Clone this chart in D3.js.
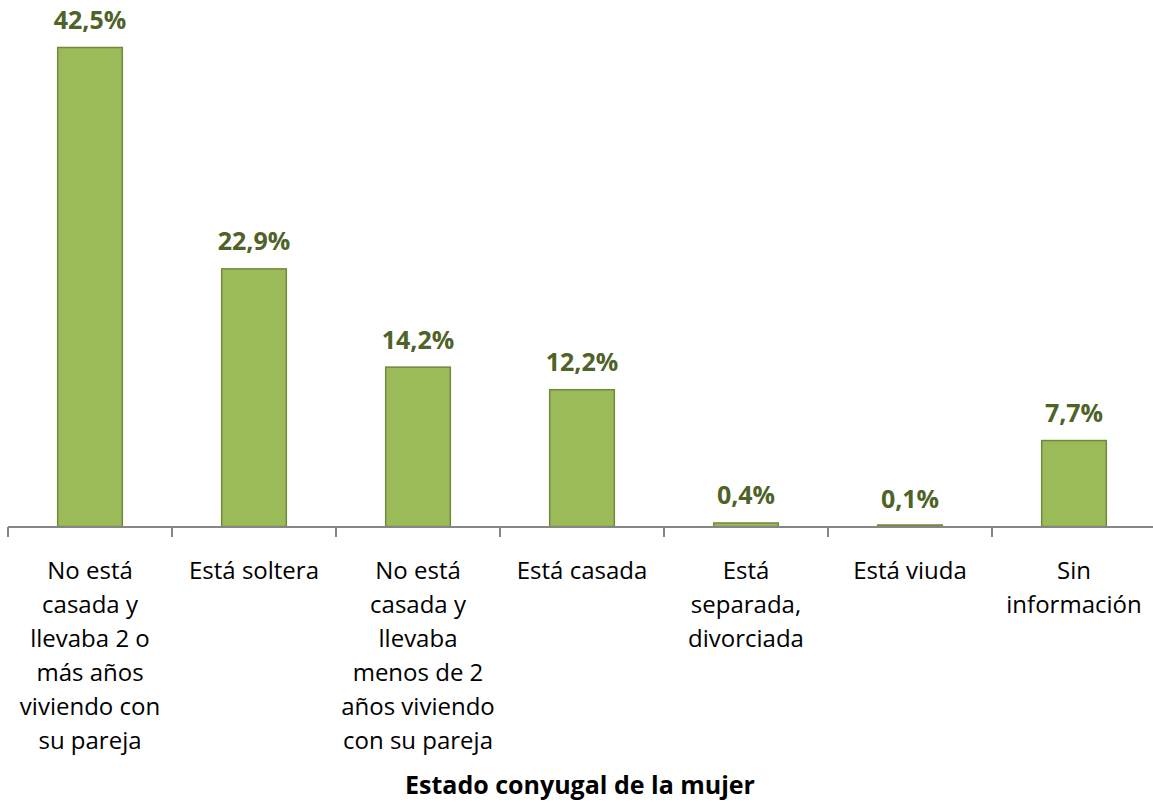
<!DOCTYPE html>
<html>
<head>
<meta charset="utf-8">
<script src="https://cdnjs.cloudflare.com/ajax/libs/d3/7.8.5/d3.min.js"></script>
<style>
  body { margin: 0; background: #fff; }
  text { font-family: "Open Sans", "Noto Sans", sans-serif; }
</style>
</head>
<body>
<div id="vis"></div>
<script>
  var w = 1153, h = 806;

  // data
  var categories = [
    ["No está", "casada y", "llevaba 2 o", "más años", "viviendo con", "su pareja"],
    ["Está soltera"],
    ["No está", "casada y", "llevaba", "menos de 2", "años viviendo", "con su pareja"],
    ["Está casada"],
    ["Está", "separada,", "divorciada"],
    ["Está viuda"],
    ["Sin", "información"]
  ];
  var values = [42.5, 22.9, 14.2, 12.2, 0.4, 0.1, 7.7];
  var valueLabels = ["42,5%", "22,9%", "14,2%", "12,2%", "0,4%", "0,1%", "7,7%"];
  var axisTitle = "Estado conyugal de la mujer";

  var left = 8, right = 1156, base = 527;

  const svg = d3.select("#vis").append("svg")
      .attr("width", w).attr("height", h)
      .attr("viewBox", [0, 0, w, h]);

  var x = d3.scaleBand().domain(d3.range(values.length)).range([left, right]).paddingInner(0.6).paddingOuter(0.3);
  var step = (right - left) / values.length;
  var y = d3.scaleLinear().domain([0, 42.5]).range([base, 47]);

  svg.append("g").selectAll("rect")
      .data(values)
      .join("rect")
      .attr("x", (d, i) => x(i) + 0.5)
      .attr("y", d => Math.min(y(d) + 0.5, base - 2))
      .attr("width", x.bandwidth() - 1)
      .attr("height", d => Math.max(base - y(d) - 1, 1.5))
      .attr("fill", "#9BBB59")
      .attr("stroke", "#71893F")
      .attr("stroke-width", 1.5);

  // axis line and ticks
  var ax = svg.append("g").attr("stroke", "#868686").attr("stroke-width", 2);
  ax.append("line").attr("x1", left).attr("x2", w).attr("y1", base).attr("y2", base);
  ax.selectAll("line.tick")
      .data(d3.range(values.length + 1))
      .join("line")
      .attr("class", "tick")
      .attr("x1", i => left + i * step).attr("x2", i => left + i * step)
      .attr("y1", base).attr("y2", base + 10);

  svg.append("g").selectAll("text")
      .data(values)
      .join("text")
      .attr("x", (d, i) => x(i) + x.bandwidth() / 2)
      .attr("y", d => y(d) - 18)
      .attr("text-anchor", "middle")
      .attr("font-size", 25)
      .attr("font-weight", "bold")
      .attr("fill", "#4F6228")
      .text((d, i) => valueLabels[i]);

  var cat = svg.append("g").selectAll("text")
      .data(categories)
      .join("text")
      .attr("text-anchor", "middle")
      .attr("font-size", 24)
      .attr("fill", "#000");
  cat.selectAll("tspan")
      .data((d, i) => d.map(s => ({s: s, i: i})))
      .join("tspan")
      .attr("x", d => x(d.i) + x.bandwidth() / 2)
      .attr("y", (d, j) => 579 + j * 34)
      .text(d => d.s);

  svg.append("text")
      .attr("x", 580).attr("y", 794)
      .attr("text-anchor", "middle")
      .attr("font-size", 25)
      .attr("font-weight", "bold")
      .text(axisTitle);
</script>
</body>
</html>
